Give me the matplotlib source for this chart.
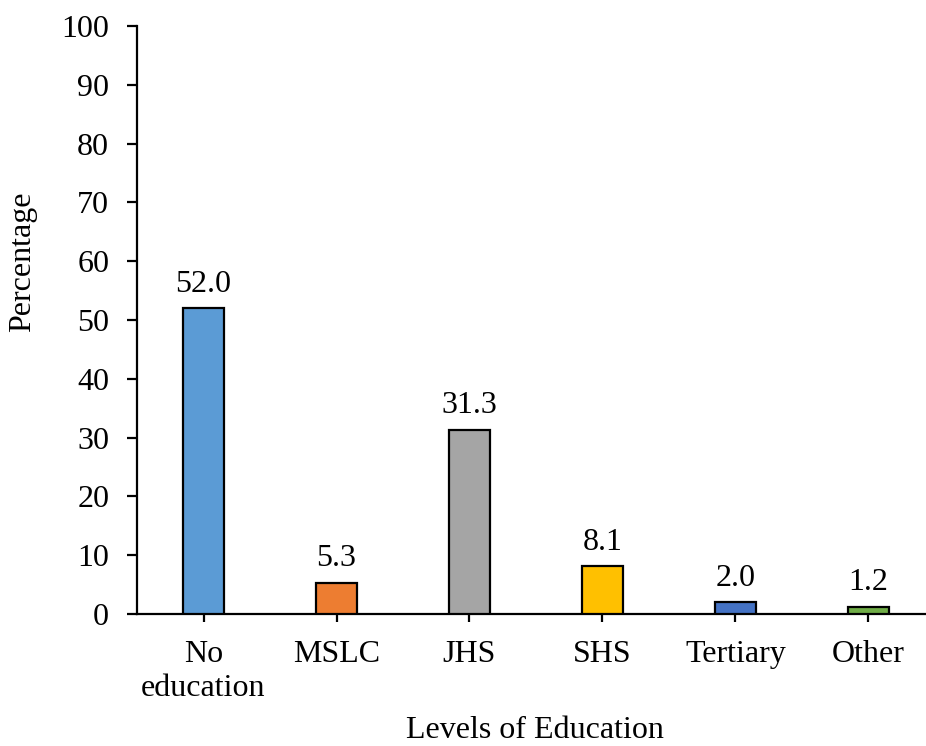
import matplotlib
matplotlib.use("Agg")
import matplotlib.pyplot as plt

categories = ["No\neducation", "MSLC", "JHS", "SHS", "Tertiary", "Other"]
values = [52.0, 5.3, 31.3, 8.1, 2.0, 1.2]
colors = ["#5B9BD5", "#ED7D31", "#A5A5A5", "#FFC000", "#4472C4", "#70AD47"]
yticks = [0, 10, 20, 30, 40, 50, 60, 70, 80, 90, 100]

plt.rcParams["font.family"] = ["Liberation Serif", "DejaVu Serif"]
fs = 23

W, H = 926, 746
fig = plt.figure(figsize=(W / 100, H / 100), dpi=100)
# axes extend slightly past the right edge of the canvas
ax = fig.add_axes([137 / W, (H - 614) / H, 798 / W, 588 / H])

x = list(range(len(categories)))
ax.bar(x, values, width=0.31, color=colors, edgecolor="black", linewidth=1.6, zorder=3)
for xi, v in zip(x, values):
    ax.annotate(f"{v:.1f}", (xi, v), xytext=(0, 12), textcoords="offset points",
                ha="center", va="baseline", fontsize=fs)

ax.set_xlim(-0.5, 5.5)
ax.set_ylim(0, 100)
ax.set_yticks(yticks)
ax.set_xticks(x)
ax.set_xticklabels(categories, fontsize=fs, linespacing=1.22)
ax.tick_params(axis="y", labelsize=fs, direction="out", length=7, width=1.6, pad=13)
ax.tick_params(axis="x", labelsize=fs, direction="out", length=6, width=1.6, pad=13)
for s in ("top", "right"):
    ax.spines[s].set_visible(False)
for s in ("left", "bottom"):
    ax.spines[s].set_linewidth(1.6)

ax.set_ylabel("Percentage", fontsize=fs)
ax.yaxis.set_label_coords(-100 / 798, (614 - 262) / 588)
fig.text(535 / W, 1 - 738 / H, "Levels of Education", ha="center", va="baseline", fontsize=fs)

fig.savefig("out.png", dpi=100)
